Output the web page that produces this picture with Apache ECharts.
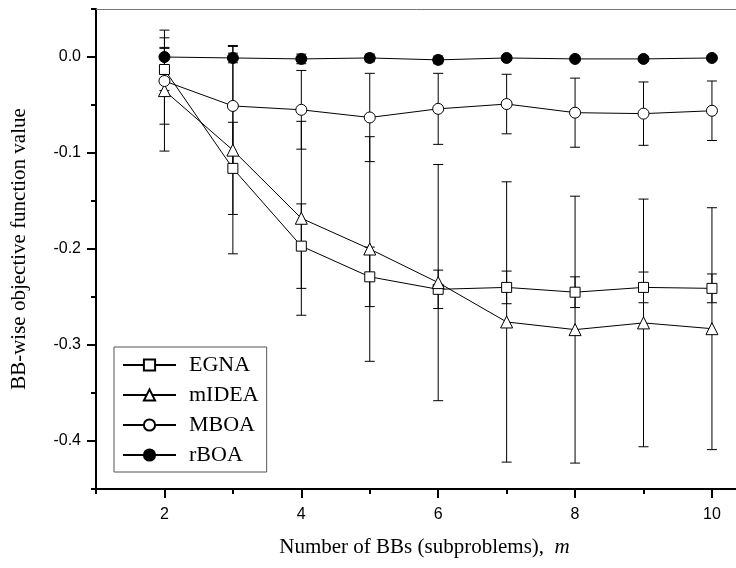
<!DOCTYPE html>
<html>
<head>
<meta charset="utf-8">
<script src="https://cdn.jsdelivr.net/npm/echarts@6/dist/echarts.min.js"></script>
<style>
  html, body { margin: 0; padding: 0; background: #fff; }
  #chart { width: 736px; height: 568px; }
</style>
</head>
<body>
<div id="chart"></div>
<script>
// number of BBs (x positions)
const mValues = [2, 3, 4, 5, 6, 7, 8, 9, 10];

// mean and error (half length of bar) for each algorithm
const egnaMean = [-0.013, -0.116, -0.197, -0.229, -0.242, -0.240, -0.245, -0.240, -0.241];
const egnaErr = [0.022, 0.048, 0.044, 0.031, 0.020, 0.017, 0.016, 0.016, 0.015];
const mideaMean = [-0.035, -0.097, -0.168, -0.200, -0.235, -0.276, -0.284, -0.277, -0.283];
const mideaErr = [0.063, 0.108, 0.101, 0.117, 0.123, 0.146, 0.139, 0.129, 0.126];
const mboaMean = [-0.025, -0.051, -0.055, -0.063, -0.054, -0.049, -0.058, -0.059, -0.056];
const mboaErr = [0.045, 0.063, 0.041, 0.046, 0.037, 0.031, 0.036, 0.033, 0.031];
const rboaMean = [0.000, -0.001, -0.002, -0.001, -0.003, -0.001, -0.002, -0.002, -0.001];
const rboaErr = [0.010, 0.005, 0.005, 0.004, 0.004, 0.002, 0.002, 0.002, 0.002];

// tick values
const yMajorTicks = [-0.4, -0.3, -0.2, -0.1, 0.0];
const yMinorTicks = [-0.45, -0.35, -0.25, -0.15, -0.05, 0.05];
const xMajorTicks = [2, 4, 6, 8, 10];
const xMinorTicks = [1, 3, 5, 7, 9];

const names = ['EGNA', 'mIDEA', 'MBOA', 'rBOA'];
const means = [egnaMean, mideaMean, mboaMean, rboaMean];
const errs = [egnaErr, mideaErr, mboaErr, rboaErr];
const symbols = ['rect', 'triangle', 'circle', 'circle'];
const symbolSizes = [10, 12, 11, 11];
const fills = ['#fff', '#fff', '#fff', '#000'];

function errBar(params, api) {
    const x = api.value(0);
    const top = api.coord([x, api.value(2)]);
    const bot = api.coord([x, api.value(1)]);
    const w = 5;
    const st = { stroke: '#000', lineWidth: 1 };
    return {
        type: 'group',
        children: [
            { type: 'line', shape: { x1: top[0], y1: top[1], x2: bot[0], y2: bot[1] }, style: st },
            { type: 'line', shape: { x1: top[0] - w, y1: top[1], x2: top[0] + w, y2: top[1] }, style: st },
            { type: 'line', shape: { x1: bot[0] - w, y1: bot[1], x2: bot[0] + w, y2: bot[1] }, style: st }
        ]
    };
}

let series = [];
for (let i = 0; i < names.length; i++) {
    series.push({
        name: names[i] + '_err',
        type: 'custom',
        renderItem: errBar,
        z: 1,
        silent: true,
        data: mValues.map((m, k) => [m, means[i][k] - errs[i][k], means[i][k] + errs[i][k]])
    });
}
for (let i = 0; i < names.length; i++) {
    series.push({
        name: names[i],
        type: 'line',
        z: 3 + i,
        symbol: symbols[i],
        symbolSize: symbolSizes[i],
        showAllSymbol: true,
        lineStyle: { color: '#000', width: 1 },
        itemStyle: { color: fills[i], borderColor: '#000', borderWidth: 1 },
        data: mValues.map((m, k) => [m, means[i][k]])
    });
}

const sans = 'Liberation Sans';
const serif = 'Liberation Serif';

let option = {
    animation: false,
    backgroundColor: '#fff',
    grid: { left: 96, top: 9, width: 657, height: 480, outerBoundsMode: 'none' },
    legend: {
        data: names,
        orient: 'vertical',
        left: 114,
        top: 347,
        itemWidth: 53,
        itemHeight: 14,
        itemGap: 8,
        padding: [7, 8, 6, 8],
        borderColor: '#555',
        borderWidth: 1,
        backgroundColor: '#fff',
        textStyle: { fontFamily: serif, fontSize: 22, color: '#000', padding: [0, 0, 0, 8] }
    },
    xAxis: [
        {
            type: 'value', min: 1, max: 10.6,
            position: 'bottom',
            name: 'Number of BBs (subproblems),  {i|m}',
            nameLocation: 'middle',
            nameGap: 48,
            nameTextStyle: {
                fontFamily: serif, fontSize: 21, color: '#000',
                rich: { i: { fontFamily: serif, fontSize: 21, fontStyle: 'italic', color: '#000' } }
            },
            axisLine: { onZero: false, lineStyle: { color: '#000', width: 2 } },
            axisTick: { customValues: xMajorTicks, length: 9, lineStyle: { color: '#000', width: 2 } },
            axisLabel: { customValues: xMajorTicks, margin: 18, fontFamily: sans, fontSize: 16, color: '#000' },
            splitLine: { show: false }
        },
        {
            type: 'value', min: 1, max: 10.6,
            position: 'bottom',
            axisLine: { show: false, onZero: false },
            axisTick: { customValues: xMinorTicks, length: 5, lineStyle: { color: '#000', width: 2 } },
            axisLabel: { show: false },
            splitLine: { show: false }
        },
        {
            type: 'value', min: 1, max: 10.6,
            position: 'top',
            axisLine: { onZero: false, lineStyle: { color: '#777', width: 1 } },
            axisTick: { show: false },
            axisLabel: { show: false },
            splitLine: { show: false }
        }
    ],
    yAxis: [
        {
            type: 'value', min: -0.45, max: 0.05,
            position: 'left',
            name: 'BB-wise objective function value',
            nameLocation: 'middle',
            nameGap: 66,
            nameTextStyle: { fontFamily: serif, fontSize: 21, color: '#000' },
            axisLine: { onZero: false, lineStyle: { color: '#000', width: 2 } },
            axisTick: { customValues: yMajorTicks, length: 9, lineStyle: { color: '#000', width: 2 } },
            axisLabel: {
                customValues: yMajorTicks, margin: 15, fontFamily: sans, fontSize: 16, color: '#000',
                formatter: function (v) { return (Math.abs(v) < 1e-9 ? 0 : v).toFixed(1); }
            },
            splitLine: { show: false }
        },
        {
            type: 'value', min: -0.45, max: 0.05,
            position: 'left',
            axisLine: { show: false, onZero: false },
            axisTick: { customValues: yMinorTicks, length: 5, lineStyle: { color: '#000', width: 2 } },
            axisLabel: { show: false },
            splitLine: { show: false }
        }
    ],
    series: series
};

let myChart = echarts.init(document.getElementById('chart'));
myChart.setOption(option);
</script>
</body>
</html>
